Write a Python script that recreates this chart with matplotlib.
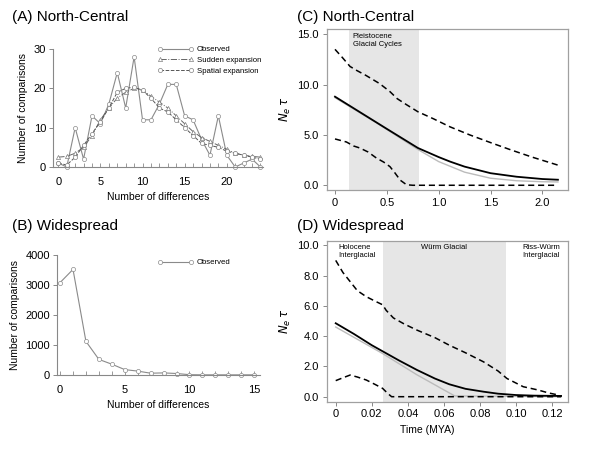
import matplotlib
matplotlib.use("Agg")
import matplotlib.pyplot as plt
from matplotlib.ticker import MultipleLocator

plt.rcParams['font.family'] = ['Liberation Sans', 'DejaVu Sans']

# ---------------- data ----------------
# Panel A
a_x = list(range(25))
a_observed = [1, 0, 10, 2, 13, 11, 16, 24, 15, 28, 12, 12, 16, 21, 21, 13, 12, 7, 3, 13, 3, 0, 1, 2, 0]
a_sudden = [2.5, 2.7, 3.5, 5, 8, 12, 15, 17.5, 19, 20, 19.5, 18, 16.5, 15, 13, 11, 9, 7.5, 6.5, 5.5, 4.5, 3.5, 3, 2.7, 2.5]
a_spatial = [1, 0.5, 2.5, 5.5, 8.5, 11.5, 15, 19, 20, 20.3, 19.5, 17.5, 15, 14, 12, 10, 8, 6, 5.5, 5, 4, 3.5, 3, 2.5, 2]

# Panel B
b_x = list(range(16))
b_observed = [3080, 3520, 1120, 520, 360, 180, 130, 60, 70, 50, 10, 5, 5, 5, 5, 5]

# Panel C
c_upper_x = [0, 0.07, 0.145, 0.21, 0.3, 0.43, 0.53, 0.6, 0.69, 0.8, 0.95, 1.11, 1.3, 1.51, 1.7, 1.9, 2.15]
c_upper_y = [13.5, 12.7, 11.8, 11.4, 10.9, 10.1, 9.3, 8.6, 8.0, 7.3, 6.6, 5.8, 5.0, 4.2, 3.5, 2.8, 2.0]
c_lower_x = [0, 0.11, 0.18, 0.24, 0.32, 0.40, 0.47, 0.53, 0.58, 0.63, 0.69, 0.75, 2.15]
c_lower_y = [4.6, 4.3, 3.9, 3.7, 3.3, 2.7, 2.3, 1.85, 1.2, 0.5, 0.05, 0, 0]
c_median_x = [0, 0.25, 0.5, 0.8, 1.0, 1.11, 1.25, 1.5, 1.75, 2.0, 2.15]
c_median_y = [8.8, 7.2, 5.6, 3.7, 2.8, 2.35, 1.85, 1.2, 0.85, 0.62, 0.55]
c_mean_x = [0, 0.4, 0.8, 1.0, 1.25, 1.5, 1.75, 2.0, 2.15]
c_mean_y = [8.7, 6.2, 3.55, 2.35, 1.3, 0.7, 0.45, 0.35, 0.33]

# Panel D
d_upper_x = [0, 0.004, 0.008, 0.012, 0.017, 0.022, 0.026, 0.028, 0.032, 0.038, 0.045, 0.055, 0.063,
             0.072, 0.082, 0.09, 0.095, 0.1, 0.104, 0.112, 0.118, 0.124]
d_upper_y = [9.0, 8.2, 7.6, 7.0, 6.6, 6.3, 6.07, 5.7, 5.2, 4.8, 4.4, 3.9, 3.4,
             2.9, 2.3, 1.7, 1.2, 0.9, 0.66, 0.45, 0.25, 0.1]
d_lower_x = [0, 0.004, 0.008, 0.012, 0.017, 0.022, 0.026, 0.029, 0.031, 0.125]
d_lower_y = [1.06, 1.25, 1.43, 1.3, 1.1, 0.8, 0.55, 0.2, 0.0, 0.0]
d_median_x = [0, 0.01, 0.02, 0.026, 0.035, 0.045, 0.055, 0.063, 0.072, 0.082, 0.09, 0.1, 0.11, 0.125]
d_median_y = [4.85, 4.15, 3.4, 3.0, 2.4, 1.77, 1.2, 0.82, 0.52, 0.33, 0.2, 0.11, 0.07, 0.05]
d_mean_x = [0, 0.026, 0.045, 0.066, 0.125]
d_mean_y = [4.6, 2.85, 1.45, 0.05, 0.0]

# ---------------- figure ----------------
fig = plt.figure(figsize=(6, 4.5), dpi=100)
W, H = 600.0, 450.0

def axes_px(l, r, t, b):
    return fig.add_axes([l / W, 1 - b / H, (r - l) / W, (b - t) / H])

TICK = 8
LAB = 7.5
gray_line = '#8a8a8a'

def style_open(ax):
    for s in ['top', 'right']:
        ax.spines[s].set_visible(False)
    for s in ['left', 'bottom']:
        ax.spines[s].set_color('#888888')
        ax.spines[s].set_linewidth(0.8)
    ax.tick_params(axis='y', direction='out', length=3, width=0.7, color='#888888', labelsize=TICK, pad=2)
    ax.tick_params(axis='x', which='both', direction='in', length=3, width=0.7, color='#999999', labelsize=TICK, pad=7)
    ax.xaxis.set_minor_locator(MultipleLocator(1))

mk = dict(ms=3, mfc='white', mew=0.5)

# Panel A
axA = axes_px(53, 263, 49, 167)
axA.plot(a_x, a_observed, color=gray_line, lw=0.8, marker='o', mec=gray_line, clip_on=False,
         label='Observed', **mk)
axA.plot(a_x, a_sudden, color='#666666', lw=0.7, ls='-.', marker='^', mec='#808080', clip_on=False,
         label='Sudden expansion', **mk)
axA.plot(a_x, a_spatial, color='#555555', lw=0.7, ls='--', marker='o', mec='#808080', clip_on=False,
         label='Spatial expansion', **mk)
axA.set_xlim(-0.63, 24.3)
axA.set_ylim(0, 30)
axA.set_xticks([0, 5, 10, 15, 20])
axA.set_yticks([0, 10, 20, 30])
style_open(axA)
axA.set_xlabel('Number of differences', fontsize=LAB, labelpad=4)
axA.set_ylabel('Number of comparisons', fontsize=LAB, labelpad=4)
axA.legend(loc='upper left', bbox_to_anchor=(158 / W, 1 - 46 / H), bbox_transform=fig.transFigure,
           frameon=False, fontsize=5.6, handlelength=4.6, handletextpad=0.4, labelspacing=0.4,
           borderpad=0, borderaxespad=0, numpoints=2)

# Panel B
axB = axes_px(56.7, 260, 255, 375)
axB.plot(b_x, b_observed, color=gray_line, lw=0.8, marker='o', mec=gray_line, clip_on=False,
         label='Observed', **mk)
axB.set_xlim(-0.26, 15.45)
axB.set_ylim(0, 4000)
axB.set_xticks([0, 5, 10, 15])
axB.set_yticks([0, 1000, 2000, 3000, 4000])
style_open(axB)
axB.set_xlabel('Number of differences', fontsize=LAB, labelpad=4)
axB.set_ylabel('Number of comparisons', fontsize=LAB, labelpad=4)
axB.legend(loc='upper left', bbox_to_anchor=(158 / W, 1 - 259 / H), bbox_transform=fig.transFigure,
           frameon=False, fontsize=5.6, handlelength=4.6, handletextpad=0.4,
           borderpad=0, borderaxespad=0, numpoints=2)

def style_box(ax):
    for s in ax.spines.values():
        s.set_color('#a0a0a0')
        s.set_linewidth(0.9)
    ax.tick_params(direction='out', length=3, width=0.7, color='#888888', labelsize=TICK, pad=2.5)

shade = '#e6e6e6'
dash = (0, (4, 2.5))

# Panel C
axC = axes_px(326.7, 568.3, 29, 190)
axC.axvspan(0.135, 0.81, color=shade, lw=0, zorder=0)
axC.plot(c_mean_x, c_mean_y, color='#bbbbbb', lw=1.0)
axC.plot(c_median_x, c_median_y, color='black', lw=1.3)
axC.plot(c_upper_x, c_upper_y, color='black', lw=1.1, ls=dash)
axC.plot(c_lower_x, c_lower_y, color='black', lw=1.1, ls=dash)
axC.set_xlim(-0.08, 2.25)
axC.set_ylim(-0.47, 15.52)
axC.set_xticks([0, 0.5, 1.0, 1.5, 2.0])
axC.set_xticklabels(['0', '0.5', '1.0', '1.5', '2.0'])
axC.set_yticks([0, 5, 10, 15])
axC.set_yticklabels(['0.0', '5.0', '10.0', '15.0'])
style_box(axC)
axC.text(0.17, 15.1, 'Pleistocene\nGlacial Cycles', fontsize=5.5, va='top', ha='left', linespacing=1.2)
axC.set_ylabel(r'$N_e\,\tau$', fontsize=8.5, labelpad=3)

# Panel D
axD = axes_px(326.7, 568.3, 240.7, 401.7)
axD.axvspan(0.026, 0.0943, color=shade, lw=0, zorder=0)
axD.plot(d_mean_x, d_mean_y, color='#bbbbbb', lw=1.0)
axD.plot(d_median_x, d_median_y, color='black', lw=1.3)
axD.plot(d_upper_x, d_upper_y, color='black', lw=1.1, ls=dash)
axD.plot(d_lower_x, d_lower_y, color='black', lw=1.1, ls=dash)
axD.set_xlim(-0.005, 0.129)
axD.set_ylim(-0.33, 10.3)
axD.set_xticks([0, 0.02, 0.04, 0.06, 0.08, 0.10, 0.12])
axD.set_xticklabels(['0', '0.02', '0.04', '0.06', '0.08', '0.10', '0.12'])
axD.set_yticks([0, 2, 4, 6, 8, 10])
axD.set_yticklabels(['0.0', '2.0', '4.0', '6.0', '8.0', '10.0'])
style_box(axD)
axD.text(0.0012, 10.05, 'Holocene\nInterglacial', fontsize=5.5, va='top', ha='left', linespacing=1.2)
axD.text(0.0602, 10.05, 'Würm Glacial', fontsize=5.5, va='top', ha='center')
axD.text(0.1035, 10.05, 'Riss-Würm\nInterglacial', fontsize=5.5, va='top', ha='left', linespacing=1.2)
axD.set_ylabel(r'$N_e\,\tau$', fontsize=8.5, labelpad=3)
fig.text(427 / W, 1 - 430 / H, 'Time (MYA)', fontsize=LAB, ha='center', va='center')

# Titles
fig.text(12 / W, 1 - 16.5 / H, '(A) North-Central', fontsize=11, ha='left', va='center')
fig.text(12 / W, 1 - 226 / H, '(B) Widespread', fontsize=11, ha='left', va='center')
fig.text(297 / W, 1 - 16.5 / H, '(C) North-Central', fontsize=11, ha='left', va='center')
fig.text(297 / W, 1 - 226 / H, '(D) Widespread', fontsize=11, ha='left', va='center')

fig.savefig('out.png', dpi=100)
